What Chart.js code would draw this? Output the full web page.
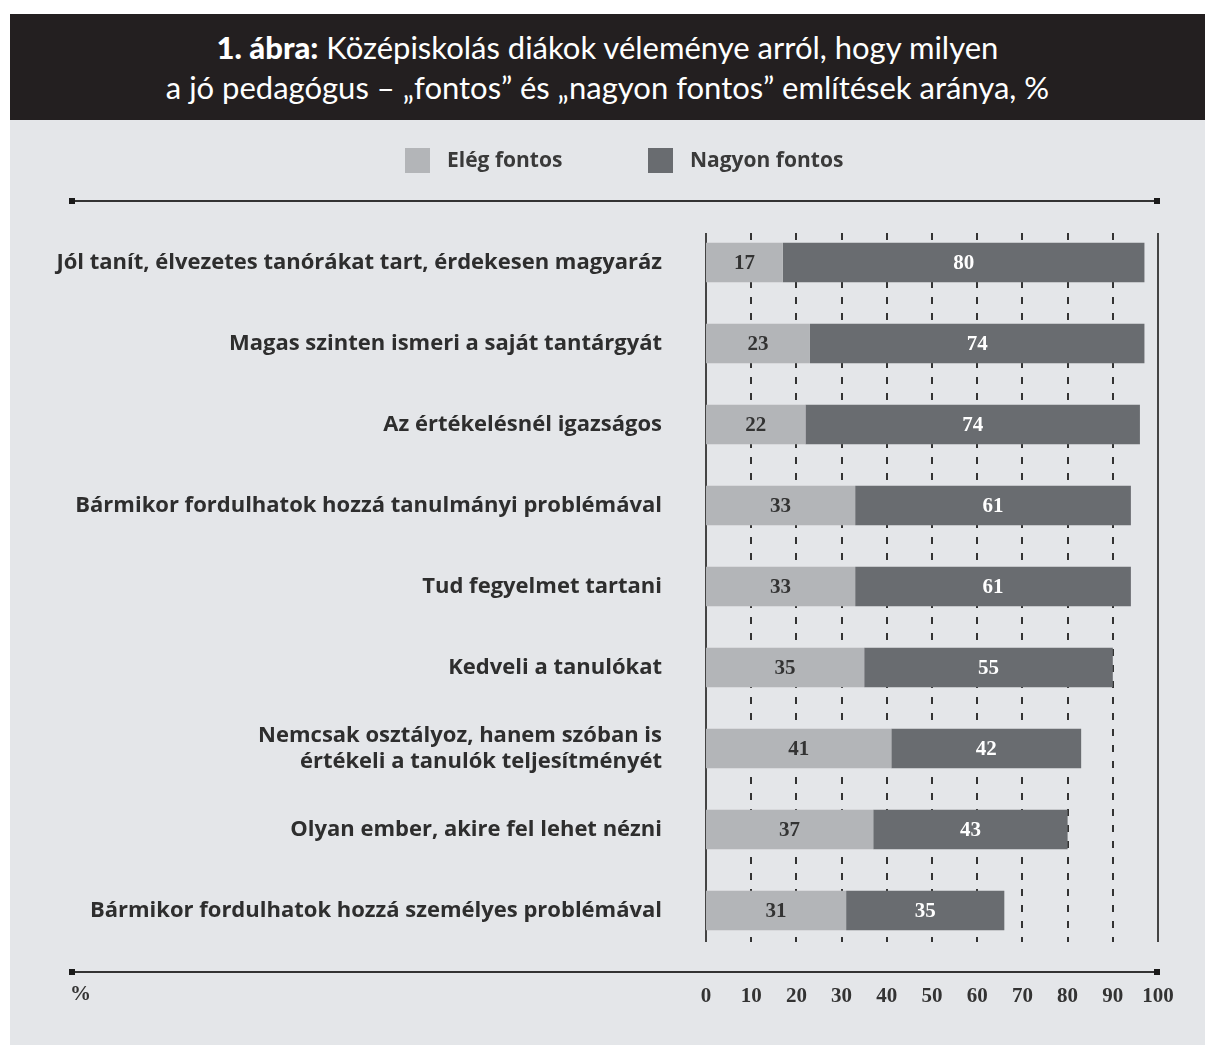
<!DOCTYPE html>
<html lang="hu">
<head>
<meta charset="utf-8">
<script src="https://cdn.jsdelivr.net/npm/chart.js@4.4.1/dist/chart.umd.min.js"></script>
<style>
  html, body { margin: 0; padding: 0; background: #fff; }
  #wrap { position: relative; width: 1205px; height: 1045px; overflow: hidden; }
  #panel { position: absolute; left: 10px; top: 14px; right: 0; bottom: 0; background: #e4e6e9; }
  #title {
    position: absolute; left: 10px; top: 14px; right: 0; height: 106px;
    background: #231f20; color: #fff; text-align: center;
    font-family: Lato, "Open Sans", sans-serif; font-size: 31px; line-height: 40px;
    padding-top: 13px; box-sizing: border-box;
  }
  #title b { font-weight: 900; }
  canvas { position: absolute; left: 0; top: 0; }
</style>
</head>
<body>
<div id="wrap">
  <div id="panel"></div>
  <div id="title"><b>1. ábra:</b> Középiskolás diákok véleménye arról, hogy milyen<br>a jó pedagógus – „fontos” és „nagyon fontos” említések aránya, %</div>
  <canvas id="chart" width="1205" height="1045"></canvas>
</div>
<script>
// adatok
const categories = [
  "Jól tanít, élvezetes tanórákat tart, érdekesen magyaráz",
  "Magas szinten ismeri a saját tantárgyát",
  "Az értékelésnél igazságos",
  "Bármikor fordulhatok hozzá tanulmányi problémával",
  "Tud fegyelmet tartani",
  "Kedveli a tanulókat",
  ["Nemcsak osztályoz, hanem szóban is", "értékeli a tanulók teljesítményét"],
  "Olyan ember, akire fel lehet nézni",
  "Bármikor fordulhatok hozzá személyes problémával"
];
const elegFontos = [17, 23, 22, 33, 33, 35, 41, 37, 31];
const nagyonFontos = [80, 74, 74, 61, 61, 55, 42, 43, 35];
const xTicks = [0, 10, 20, 30, 40, 50, 60, 70, 80, 90, 100];

const LIGHT = "#b3b5b8";
const DARK = "#696c70";
const serif = "'Liberation Serif', 'DejaVu Serif', serif";
const sans = "'Open Sans', Lato, sans-serif";

// rácsvonalak: 0 és 100 folytonos, a többi szaggatott
const gridPlugin = {
  id: "grid",
  beforeDatasetsDraw(chart) {
    const { ctx, chartArea, scales } = chart;
    const top = chartArea.top + 11, bottom = chartArea.bottom - 9;
    ctx.save();
    xTicks.forEach((v) => {
      const x = Math.round(scales.x.getPixelForValue(v));
      ctx.beginPath();
      if (v === 0 || v === 100) {
        ctx.setLineDash([]);
        ctx.strokeStyle = "#444";
      } else {
        ctx.setLineDash([7, 9]);
        ctx.strokeStyle = "#333";
      }
      ctx.lineWidth = 2;
      ctx.moveTo(x, top);
      ctx.lineTo(x, bottom);
      ctx.stroke();
    });
    ctx.restore();
  },
};

// értékcímkék, jelmagyarázat, vízszintes vonalak
const decorPlugin = {
  id: "decor",
  afterDatasetsDraw(chart) {
    const { ctx } = chart;
    ctx.save();
    ctx.font = "bold 21px " + serif;
    ctx.textAlign = "center";
    ctx.textBaseline = "middle";
    chart.data.datasets.forEach((ds, i) => {
      chart.getDatasetMeta(i).data.forEach((el, j) => {
        ctx.fillStyle = i === 0 ? "#333" : "#fff";
        ctx.fillText(ds.data[j], (el.x + el.base) / 2, el.y + 1);
      });
    });
    ctx.restore();
  },
  afterDraw(chart) {
    const { ctx, chartArea } = chart;
    ctx.save();
    // jelmagyarázat
    const items = [
      { x: 405, color: LIGHT, text: chart.data.datasets[0].label },
      { x: 648, color: DARK, text: chart.data.datasets[1].label },
    ];
    ctx.font = "bold 21px " + sans;
    ctx.textBaseline = "middle";
    ctx.textAlign = "left";
    items.forEach((it) => {
      ctx.fillStyle = it.color;
      ctx.fillRect(it.x, 148, 25, 25);
      ctx.fillStyle = "#3a3a3a";
      ctx.fillText(it.text, it.x + 42, 161);
    });
    // vonalak
    const lines = [201, chartArea.bottom + 21];
    lines.forEach((y) => {
      ctx.strokeStyle = "#333";
      ctx.lineWidth = 2;
      ctx.beginPath();
      ctx.moveTo(72, y);
      ctx.lineTo(1157, y);
      ctx.stroke();
      ctx.fillStyle = "#1a1a1a";
      ctx.fillRect(69, y - 3, 6, 6);
      ctx.fillRect(1154, y - 3, 6, 6);
    });
    ctx.fillStyle = "#333";
    ctx.font = "bold 21px " + serif;
    ctx.textAlign = "left";
    ctx.fillText("%", 70, 995);
    ctx.restore();
  },
};

new Chart(document.getElementById("chart"), {
  type: "bar",
  data: {
    labels: categories,
    datasets: [
      { label: "Elég fontos", data: elegFontos, backgroundColor: LIGHT },
      { label: "Nagyon fontos", data: nagyonFontos, backgroundColor: DARK },
    ],
  },
  options: {
    indexAxis: "y",
    responsive: false,
    animation: false,
    layout: { padding: { top: 222, right: 47, left: 0, bottom: 0 } },
    categoryPercentage: 0.49,
    barPercentage: 1,
    scales: {
      x: {
        stacked: true,
        min: 0,
        max: 100,
        afterBuildTicks(scale) {
          scale.ticks = xTicks.map((v) => ({ value: v }));
        },
        afterFit(scale) {
          scale.height = 1045 - 951;
          scale.paddingLeft = 0;
          scale.paddingRight = 0;
        },
        grid: { display: false, drawTicks: false },
        border: { display: false },
        ticks: {
          padding: 33,
          color: "#333",
          font: { family: serif, size: 21, weight: "bold" },
          maxRotation: 0,
          autoSkip: false,
        },
      },
      y: {
        stacked: true,
        afterFit(scale) {
          scale.width = 706;
        },
        grid: { display: false, drawTicks: false },
        border: { display: false },
        ticks: {
          padding: 44,
          color: "#2e2e2e",
          font: { family: sans, size: 22, weight: "bold", lineHeight: 1.2 },
          autoSkip: false,
        },
      },
    },
    plugins: {
      legend: { display: false },
      tooltip: { enabled: false },
    },
  },
  plugins: [gridPlugin, decorPlugin],
});
</script>
</body>
</html>
